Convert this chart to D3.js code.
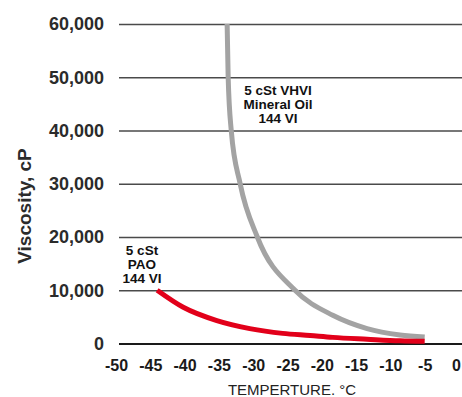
<!DOCTYPE html>
<html lang="en">
<head>
    <meta charset="UTF-8">
    <title>Viscosity vs Temperature</title>
    <script src="https://d3js.org/d3.v7.min.js"></script>
    <style>
        body { margin: 0; background: #fff; font-family: "Liberation Sans", Arial, sans-serif; }
        svg { display: block; }
    </style>
</head>
<body>
    <script>
        // Data
        const xTicks = [-50, -45, -40, -35, -30, -25, -20, -15, -10, -5, 0];
        const yTicks = [0, 10000, 20000, 30000, 40000, 50000, 60000];

        // 5 cSt VHVI Mineral Oil, 144 VI
        const mineralTemp = [-33.8, -33.65, -33.2, -31.9, -29.4, -23.9, -18.4, -13.4, -8.6, -5];
        const mineralVisc = [60000, 50000, 40000, 30000, 20000, 10000, 5300, 2800, 1600, 1200];

        // 5 cSt PAO, 144 VI
        const paoTemp = [-44, -40.2, -35.3, -30.5, -25.7, -21.7, -18.4, -13.4, -8.6, -5];
        const paoVisc = [10000, 6800, 4300, 2800, 1900, 1500, 1150, 800, 500, 400];

        const width = 462, height = 397;

        const svg = d3.select("body").append("svg")
            .attr("width", width)
            .attr("height", height);

        const x = d3.scaleLinear().domain([-50, 0]).range([116, 459]);
        const y = d3.scaleLinear().domain([0, 60000]).range([343.5, 24]);

        // Horizontal grid + y labels
        const yAxis = svg.append("g")
            .attr("transform", "translate(119,0)")
            .call(d3.axisLeft(y).tickValues(yTicks).tickSize(-(width - 119)).tickPadding(15)
                .tickFormat(d3.format(",")));
        yAxis.select(".domain").remove();
        yAxis.selectAll(".tick line")
            .attr("stroke", d => d === 0 ? "#1a1a1a" : "#4a4a4a")
            .attr("stroke-width", d => d === 0 ? 2.2 : 1.4);
        yAxis.selectAll(".tick text")
            .attr("fill", "#2b2b2b")
            .style("font-size", "18px")
            .style("font-weight", "bold")
            .style("font-family", "'Liberation Sans', Arial, sans-serif");

        // X axis labels
        const xAxis = svg.append("g")
            .attr("transform", `translate(0,${y(0)})`)
            .call(d3.axisBottom(x).tickValues(xTicks).tickSize(0).tickPadding(16)
                .tickFormat(d => String(d)));
        xAxis.select(".domain").remove();
        xAxis.selectAll(".tick text")
            .attr("fill", "#1a1a1a")
            .attr("dx", d => d === 0 ? -3 : 0)
            .style("font-size", "16px")
            .style("font-weight", "bold")
            .style("font-family", "'Liberation Sans', Arial, sans-serif");

        // Axis titles
        svg.append("text")
            .attr("x", 292)
            .attr("y", 395)
            .attr("text-anchor", "middle")
            .attr("fill", "#222")
            .style("font-size", "15px")
            .text("TEMPERTURE. °C");

        svg.append("text")
            .attr("transform", "translate(31,206) rotate(-90)")
            .attr("text-anchor", "middle")
            .attr("fill", "#2b2b2b")
            .style("font-size", "19px")
            .style("font-weight", "bold")
            .text("Viscosity, cP");

        // Curves
        const line = d3.line()
            .x(d => x(d[0]))
            .y(d => y(d[1]))
            .curve(d3.curveMonotoneX);

        svg.append("path")
            .datum(mineralTemp.map((t, i) => [t, mineralVisc[i]]))
            .attr("fill", "none")
            .attr("stroke", "#a3a3a3")
            .attr("stroke-width", 5)
            .attr("d", line);

        svg.append("path")
            .datum(paoTemp.map((t, i) => [t, paoVisc[i]]))
            .attr("fill", "none")
            .attr("stroke", "#e2001a")
            .attr("stroke-width", 5)
            .attr("d", line);

        // Annotations
        function label(lines, cx, firstBaseline) {
            const t = svg.append("text")
                .attr("text-anchor", "middle")
                .attr("fill", "#111")
                .style("font-size", "13.5px")
                .style("font-weight", "bold");
            lines.forEach((s, i) => {
                t.append("tspan")
                    .attr("x", cx)
                    .attr("y", firstBaseline + i * 14)
                    .text(s);
            });
        }
        label(["5 cSt VHVI", "Mineral Oil", "144 VI"], 278, 95);
        label(["5 cSt", "PAO", "144 VI"], 142, 255);
    </script>
</body>
</html>
